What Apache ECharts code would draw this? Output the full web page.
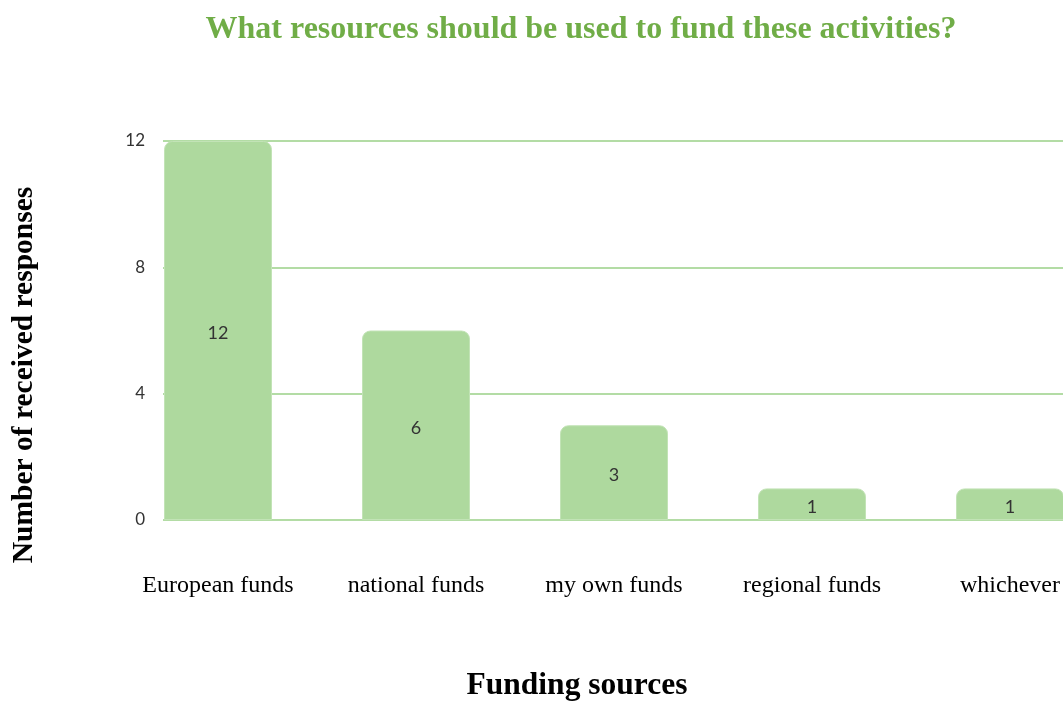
<!DOCTYPE html>
<html>
<head>
<meta charset="utf-8">
<script src="https://cdn.jsdelivr.net/npm/echarts@6/dist/echarts.min.js"></script>
<style>
  html, body { margin: 0; padding: 0; background: #fff; }
  #chart { width: 1063px; height: 702px; }
</style>
</head>
<body>
<div id="chart"></div>
<script>
// Funding source categories and the number of responses for each
const categories = ['European funds', 'national funds', 'my own funds', 'regional funds', 'whichever'];
const responses = [12, 6, 3, 1, 1];
const yTicks = [0, 4, 8, 12];

const GREEN = '#aed99e';
const LINE_GREEN = '#b3dca5';
const SERIF = '"Liberation Serif", "Times New Roman", serif';
const SANS = 'Lato, "Noto Sans", sans-serif';

const chart = echarts.init(document.getElementById('chart'));

chart.setOption({
  backgroundColor: '#ffffff',
  animation: false,
  title: {
    text: 'What resources should be used to fund these activities?',
    left: 576,
    textAlign: 'center',
    top: 9,
    textStyle: { fontFamily: SERIF, fontWeight: 'bold', fontSize: 32, color: '#70ad47' }
  },
  grid: [
    // grid holding the horizontal gridlines and the value labels
    { left: 163, width: 946, top: 141, bottom: 182, outerBoundsMode: 'none', containLabel: false },
    // grid holding the bars (runs past the right edge of the canvas)
    { left: 119, width: 990, top: 141, bottom: 182, outerBoundsMode: 'none', containLabel: false }
  ],
  xAxis: [
    { gridIndex: 0, type: 'category', data: categories, show: false },
    {
      gridIndex: 1,
      type: 'category',
      data: categories,
      axisLine: { show: false },
      axisTick: { show: false },
      axisLabel: { interval: 0, margin: 54, fontFamily: SERIF, fontSize: 24, color: '#000' }
    }
  ],
  yAxis: [
    {
      gridIndex: 0,
      type: 'value',
      min: yTicks[0],
      max: yTicks[yTicks.length - 1],
      interval: yTicks[1] - yTicks[0],
      axisLine: { show: false },
      axisTick: { show: false },
      axisLabel: { margin: 18, fontFamily: SANS, fontSize: 17, color: '#333' },
      splitLine: { lineStyle: { color: LINE_GREEN, width: 2 } }
    },
    {
      gridIndex: 1,
      type: 'value',
      min: yTicks[0],
      max: yTicks[yTicks.length - 1],
      interval: yTicks[1] - yTicks[0],
      show: false,
      splitLine: { show: false }
    }
  ],
  series: [{
    type: 'bar',
    xAxisIndex: 1,
    yAxisIndex: 1,
    data: responses,
    barWidth: 108,
    itemStyle: { color: GREEN, borderRadius: [8, 8, 0, 0], borderColor: '#c2e3b6', borderWidth: 1 },
    label: {
      show: true,
      position: 'inside',
      offset: [0, 3],
      fontFamily: SANS,
      fontSize: 18,
      color: '#333'
    }
  }],
  graphic: [
    {
      type: 'text',
      x: 24,
      y: 375,
      rotation: Math.PI / 2,
      style: {
        text: 'Number of received responses',
        font: 'bold 29.5px ' + SERIF,
        fill: '#000',
        textAlign: 'center',
        textVerticalAlign: 'middle'
      }
    },
    {
      type: 'text',
      x: 577,
      y: 686,
      style: {
        text: 'Funding sources',
        font: 'bold 31.5px ' + SERIF,
        fill: '#000',
        textAlign: 'center',
        textVerticalAlign: 'middle'
      }
    }
  ]
});
</script>
</body>
</html>
